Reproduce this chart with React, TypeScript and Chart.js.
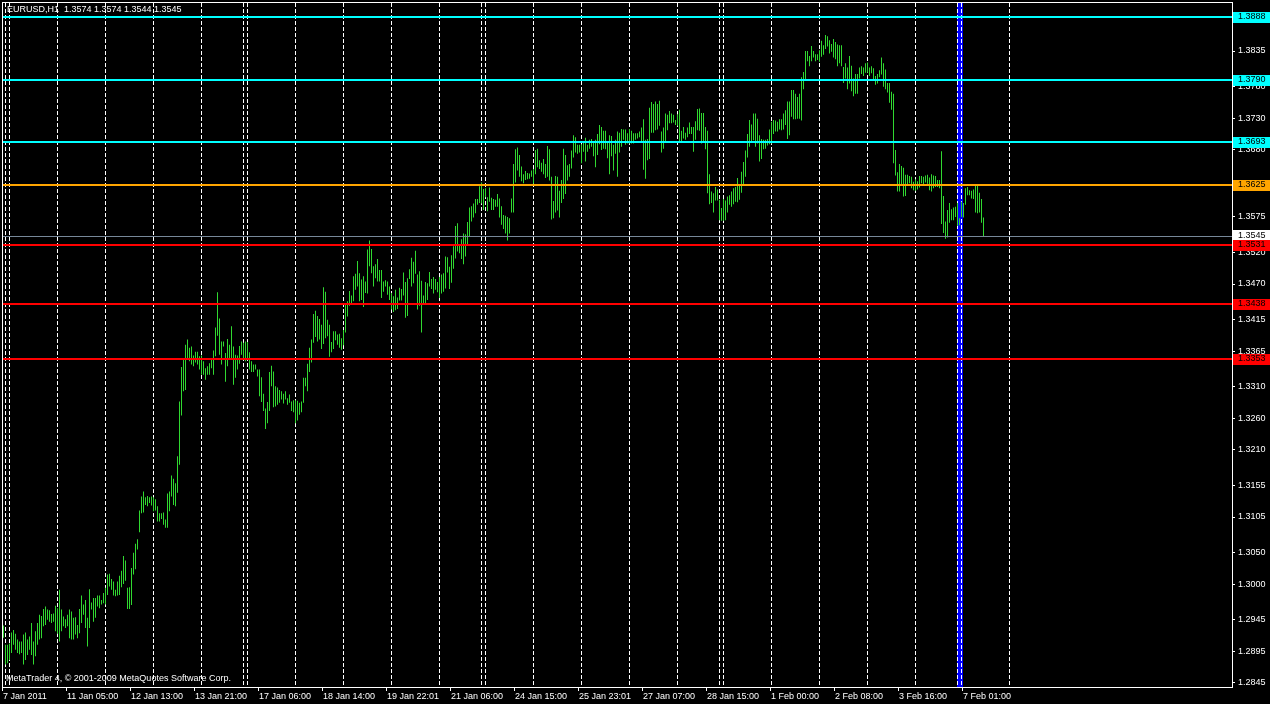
import { useEffect, useRef } from "react";
import { Chart, registerables } from "chart.js";

Chart.register(...registerables);

const chartTitle = "EURUSD,H1  1.3574 1.3574 1.3544 1.3545";
const copyrightText = "MetaTrader 4, \u00A9 2001-2009 MetaQuotes Software Corp.";

const highs = [
  1.2935,1.2905,1.2905,1.2907,1.2924,1.2928,1.2922,1.2913,1.2910,1.2910,
  1.2921,1.2924,1.2913,1.2918,1.2939,1.2910,1.2926,1.2939,1.2952,1.2950,
  1.2961,1.2965,1.2960,1.2959,1.2953,1.2954,1.2966,1.2962,1.2991,1.2960,
  1.2949,1.2945,1.2952,1.2960,1.2957,1.2947,1.2948,1.2936,1.2961,1.2982,
  1.2968,1.2975,1.2947,1.2992,1.2971,1.2978,1.2978,1.2982,1.2982,1.2975,
  1.2986,1.2994,1.3015,1.3016,1.3008,1.3004,1.2991,1.3004,1.3013,1.3021,
  1.3044,1.3037,1.2994,1.2995,1.3025,1.3049,1.3063,1.3070,1.3115,1.3137,
  1.3145,1.3136,1.3138,1.3136,1.3137,1.3136,1.3133,1.3122,1.3111,1.3111,
  1.3112,1.3101,1.3142,1.3145,1.3170,1.3165,1.3158,1.3200,1.3286,1.3340,
  1.3354,1.3375,1.3383,1.3370,1.3372,1.3358,1.3364,1.3364,1.3357,1.3358,
  1.3349,1.3338,1.3341,1.3346,1.3352,1.3366,1.3402,1.3457,1.3416,1.3380,
  1.3380,1.3362,1.3384,1.3375,1.3404,1.3372,1.3359,1.3358,1.3373,1.3380,
  1.3378,1.3380,1.3379,1.3363,1.3349,1.3344,1.3344,1.3336,1.3336,1.3324,
  1.3298,1.3275,1.3285,1.3332,1.3342,1.3333,1.3310,1.3308,1.3304,1.3302,
  1.3298,1.3302,1.3291,1.3297,1.3286,1.3288,1.3288,1.3287,1.3284,1.3286,
  1.3323,1.3323,1.3345,1.3370,1.3383,1.3423,1.3428,1.3420,1.3415,1.3406,
  1.3465,1.3458,1.3414,1.3406,1.3379,1.3396,1.3396,1.3391,1.3392,1.3385,
  1.3398,1.3438,1.3443,1.3459,1.3452,1.3482,1.3486,1.3506,1.3487,1.3477,
  1.3482,1.3474,1.3524,1.3538,1.3525,1.3498,1.3501,1.3509,1.3492,1.3492,
  1.3474,1.3476,1.3474,1.3466,1.3456,1.3451,1.3461,1.3449,1.3464,1.3462,
  1.3488,1.3473,1.3479,1.3493,1.3511,1.3505,1.3522,1.3485,1.3490,1.3475,
  1.3452,1.3473,1.3471,1.3489,1.3478,1.3481,1.3478,1.3473,1.3481,1.3485,
  1.3487,1.3513,1.3512,1.3497,1.3515,1.3529,1.3561,1.3565,1.3530,1.3540,
  1.3549,1.3548,1.3567,1.3590,1.3592,1.3596,1.3603,1.3603,1.3623,1.3629,
  1.3619,1.3620,1.3606,1.3621,1.3605,1.3603,1.3602,1.3611,1.3604,1.3592,
  1.3578,1.3577,1.3575,1.3573,1.3604,1.3658,1.3681,1.3684,1.3672,1.3654,
  1.3642,1.3647,1.3644,1.3643,1.3648,1.3650,1.3680,1.3682,1.3664,1.3660,
  1.3666,1.3658,1.3686,1.3681,1.3638,1.3600,1.3639,1.3638,1.3616,1.3633,
  1.3682,1.3672,1.3656,1.3658,1.3679,1.3703,1.3700,1.3688,1.3688,1.3689,
  1.3693,1.3699,1.3688,1.3696,1.3697,1.3693,1.3696,1.3705,1.3719,1.3716,
  1.3710,1.3710,1.3694,1.3703,1.3702,1.3688,1.3696,1.3709,1.3707,1.3713,
  1.3712,1.3712,1.3706,1.3713,1.3710,1.3706,1.3706,1.3706,1.3709,1.3715,
  1.3728,1.3696,1.3697,1.3746,1.3755,1.3752,1.3756,1.3752,1.3757,1.3709,
  1.3715,1.3737,1.3735,1.3741,1.3737,1.3735,1.3727,1.3736,1.3743,1.3710,
  1.3716,1.3707,1.3715,1.3723,1.3716,1.3716,1.3725,1.3744,1.3745,1.3738,
  1.3738,1.3716,1.3710,1.3642,1.3615,1.3612,1.3622,1.3618,1.3602,1.3589,
  1.3603,1.3601,1.3607,1.3609,1.3615,1.3620,1.3622,1.3636,1.3625,1.3646,
  1.3661,1.3679,1.3705,1.3727,1.3720,1.3737,1.3737,1.3729,1.3703,1.3697,
  1.3696,1.3696,1.3697,1.3712,1.3724,1.3727,1.3726,1.3724,1.3728,1.3728,
  1.3737,1.3742,1.3756,1.3756,1.3774,1.3774,1.3768,1.3763,1.3768,1.3794,
  1.3802,1.3835,1.3835,1.3827,1.3843,1.3835,1.3830,1.3830,1.3836,1.3851,
  1.3844,1.3860,1.3858,1.3852,1.3846,1.3854,1.3849,1.3845,1.3844,1.3844,
  1.3810,1.3816,1.3809,1.3827,1.3812,1.3792,1.3799,1.3799,1.3809,1.3811,
  1.3809,1.3816,1.3817,1.3809,1.3811,1.3808,1.3796,1.3799,1.3805,1.3825,
  1.3816,1.3806,1.3785,1.3785,1.3771,1.3768,1.3680,1.3645,1.3658,1.3655,
  1.3652,1.3641,1.3641,1.3639,1.3638,1.3630,1.3634,1.3631,1.3639,1.3639,
  1.3638,1.3640,1.3641,1.3637,1.3642,1.3640,1.3639,1.3633,1.3633,1.3678,
  1.3608,1.3568,1.3586,1.3597,1.3587,1.3590,1.3591,1.3597,1.3573,1.3599,
  1.3597,1.3620,1.3622,1.3617,1.3616,1.3618,1.3625,1.3624,1.3613,1.3603,
  1.3574,
];

const lows = [
  1.2916,1.2874,1.2876,1.2881,1.2892,1.2905,1.2897,1.2892,1.2890,1.2892,
  1.2874,1.2881,1.2889,1.2897,1.2889,1.2874,1.2887,1.2905,1.2913,1.2915,
  1.2934,1.2936,1.2944,1.2941,1.2939,1.2941,1.2926,1.2922,1.2910,1.2926,
  1.2934,1.2931,1.2934,1.2915,1.2913,1.2913,1.2921,1.2915,1.2923,1.2939,
  1.2952,1.2931,1.2902,1.2931,1.2960,1.2941,1.2947,1.2965,1.2962,1.2968,
  1.2970,1.2968,1.2983,1.2996,1.2991,1.2982,1.2981,1.2982,1.2983,1.2995,
  1.3000,1.3005,1.2961,1.2961,1.2967,1.3015,1.3023,1.3054,1.3081,1.3111,
  1.3112,1.3124,1.3122,1.3127,1.3123,1.3114,1.3115,1.3098,1.3098,1.3102,
  1.3093,1.3088,1.3088,1.3114,1.3137,1.3124,1.3122,1.3143,1.3187,1.3264,
  1.3302,1.3304,1.3354,1.3349,1.3344,1.3341,1.3347,1.3344,1.3336,1.3328,
  1.3328,1.3320,1.3328,1.3328,1.3338,1.3328,1.3357,1.3389,1.3359,1.3344,
  1.3372,1.3317,1.3341,1.3354,1.3352,1.3312,1.3323,1.3336,1.3345,1.3359,
  1.3354,1.3349,1.3354,1.3336,1.3332,1.3332,1.3336,1.3325,1.3294,1.3285,
  1.3271,1.3243,1.3252,1.3271,1.3310,1.3277,1.3278,1.3281,1.3284,1.3289,
  1.3283,1.3289,1.3281,1.3284,1.3271,1.3269,1.3252,1.3256,1.3265,1.3269,
  1.3284,1.3310,1.3302,1.3332,1.3347,1.3378,1.3387,1.3380,1.3383,1.3368,
  1.3376,1.3385,1.3388,1.3356,1.3363,1.3368,1.3382,1.3375,1.3370,1.3367,
  1.3374,1.3394,1.3419,1.3436,1.3440,1.3443,1.3461,1.3466,1.3443,1.3445,
  1.3434,1.3456,1.3455,1.3498,1.3487,1.3466,1.3479,1.3474,1.3474,1.3448,
  1.3458,1.3466,1.3453,1.3445,1.3430,1.3426,1.3429,1.3431,1.3444,1.3444,
  1.3452,1.3417,1.3420,1.3478,1.3466,1.3471,1.3486,1.3430,1.3436,1.3394,
  1.3440,1.3440,1.3445,1.3466,1.3462,1.3455,1.3461,1.3457,1.3448,1.3455,
  1.3458,1.3463,1.3488,1.3462,1.3472,1.3494,1.3510,1.3521,1.3518,1.3509,
  1.3501,1.3513,1.3531,1.3544,1.3568,1.3574,1.3581,1.3594,1.3597,1.3596,
  1.3586,1.3606,1.3584,1.3599,1.3586,1.3586,1.3591,1.3591,1.3574,1.3563,
  1.3556,1.3549,1.3538,1.3549,1.3582,1.3582,1.3629,1.3648,1.3638,1.3631,
  1.3628,1.3633,1.3634,1.3635,1.3638,1.3627,1.3642,1.3653,1.3650,1.3646,
  1.3642,1.3636,1.3638,1.3632,1.3571,1.3573,1.3582,1.3585,1.3574,1.3597,
  1.3603,1.3611,1.3632,1.3638,1.3651,1.3668,1.3676,1.3674,1.3676,1.3659,
  1.3677,1.3662,1.3677,1.3682,1.3685,1.3670,1.3653,1.3672,1.3689,1.3680,
  1.3682,1.3681,1.3667,1.3642,1.3670,1.3648,1.3674,1.3638,1.3676,1.3685,
  1.3696,1.3688,1.3690,1.3690,1.3690,1.3690,1.3696,1.3698,1.3700,1.3693,
  1.3649,1.3635,1.3664,1.3666,1.3707,1.3707,1.3711,1.3712,1.3718,1.3676,
  1.3682,1.3693,1.3711,1.3722,1.3722,1.3723,1.3719,1.3718,1.3693,1.3691,
  1.3698,1.3696,1.3700,1.3705,1.3705,1.3677,1.3696,1.3711,1.3710,1.3690,
  1.3693,1.3681,1.3612,1.3595,1.3597,1.3582,1.3601,1.3601,1.3570,1.3569,
  1.3569,1.3570,1.3582,1.3594,1.3591,1.3595,1.3599,1.3598,1.3602,1.3613,
  1.3625,1.3638,1.3668,1.3685,1.3692,1.3695,1.3685,1.3690,1.3662,1.3666,
  1.3681,1.3682,1.3687,1.3689,1.3690,1.3705,1.3709,1.3709,1.3712,1.3711,
  1.3712,1.3719,1.3697,1.3703,1.3732,1.3728,1.3728,1.3729,1.3729,1.3726,
  1.3775,1.3791,1.3819,1.3811,1.3819,1.3825,1.3819,1.3821,1.3818,1.3826,
  1.3829,1.3838,1.3842,1.3831,1.3834,1.3825,1.3822,1.3811,1.3816,1.3811,
  1.3785,1.3792,1.3775,1.3784,1.3772,1.3764,1.3768,1.3768,1.3792,1.3799,
  1.3796,1.3801,1.3801,1.3796,1.3800,1.3791,1.3782,1.3784,1.3794,1.3798,
  1.3779,1.3775,1.3770,1.3754,1.3743,1.3659,1.3640,1.3615,1.3615,1.3624,
  1.3607,1.3608,1.3624,1.3628,1.3620,1.3617,1.3616,1.3618,1.3621,1.3628,
  1.3625,1.3629,1.3627,1.3617,1.3615,1.3620,1.3622,1.3622,1.3620,1.3564,
  1.3550,1.3541,1.3543,1.3566,1.3570,1.3570,1.3575,1.3561,1.3562,1.3575,
  1.3574,1.3594,1.3609,1.3609,1.3604,1.3603,1.3582,1.3581,1.3582,1.3566,
  1.3544,
];

const xTickBars = [0, 32, 64, 96, 128, 160, 192, 224, 256, 288, 320, 352, 384, 416, 448, 480];
const xTickLabels = [
  "7 Jan 2011", "11 Jan 05:00", "12 Jan 13:00", "13 Jan 21:00", "17 Jan 06:00",
  "18 Jan 14:00", "19 Jan 22:01", "21 Jan 06:00", "24 Jan 15:00", "25 Jan 23:01",
  "27 Jan 07:00", "28 Jan 15:00", "1 Feb 00:00", "2 Feb 08:00", "3 Feb 16:00", "7 Feb 01:00",
];
const yTickValues = [
  1.3835, 1.3780, 1.3730, 1.3680, 1.3625, 1.3575, 1.3520, 1.3470, 1.3415, 1.3365,
  1.3310, 1.3260, 1.3210, 1.3155, 1.3105, 1.3050, 1.3000, 1.2945, 1.2895, 1.2845,
];
const separatorBars = [
  1, 3, 27, 51, 75, 99, 120, 122, 146, 170, 194, 218, 239, 241, 265, 289, 313, 337,
  358, 360, 384, 408, 432, 456, 477, 479, 503,
];
const levelValues = [1.3888, 1.3790, 1.3693, 1.3625, 1.3531, 1.3438, 1.3353];
const levelColors = ["#00FFFF", "#00FFFF", "#00FFFF", "#FFA500", "#FF0000", "#FF0000", "#FF0000"];
const bidPrice = 1.3545;
const markerBar = 478;

const Y_MIN = 1.28387;
const Y_MAX = 1.39102;
const X_MIN = -0.25;
const X_MAX = 614.25;
const FONT = '"Liberation Sans", Arial, sans-serif';
const FONT_SIZE = 9;
const BAR_COLOR = "#30D830";

const mtPlugin = {
  id: "mtDecor",
  beforeDraw(chart: any) {
    const ctx = chart.ctx;
    ctx.save();
    ctx.fillStyle = "#000000";
    ctx.fillRect(0, 0, chart.width, chart.height);
    ctx.restore();
  },
  beforeDatasetsDraw(chart: any) {
    const ctx = chart.ctx;
    const { top, bottom } = chart.chartArea;
    const xs = chart.scales.x;
    ctx.save();
    const bx = Math.round(xs.getPixelForValue(markerBar));
    ctx.fillStyle = "#0000FF";
    ctx.fillRect(bx - 3, top, 6, bottom - top);
    ctx.strokeStyle = "#FFFFFF";
    ctx.lineWidth = 1;
    ctx.setLineDash([4, 2]);
    separatorBars.forEach((b) => {
      const px = Math.floor(xs.getPixelForValue(b)) + 0.5;
      ctx.beginPath();
      ctx.moveTo(px, top);
      ctx.lineTo(px, bottom);
      ctx.stroke();
    });
    ctx.restore();
  },
  afterDatasetsDraw(chart: any) {
    const ctx = chart.ctx;
    const { left, right } = chart.chartArea;
    const ys = chart.scales.y;
    ctx.save();
    levelValues.forEach((v, i) => {
      const py = Math.round(ys.getPixelForValue(v));
      ctx.fillStyle = levelColors[i];
      ctx.fillRect(left, py - 1, right - left, 2);
    });
    const by = Math.floor(ys.getPixelForValue(bidPrice));
    ctx.fillStyle = "#778899";
    ctx.fillRect(left, by, right - left, 1);
    ctx.restore();
  },
  afterDraw(chart: any) {
    const ctx = chart.ctx;
    const { left, right, top, bottom } = chart.chartArea;
    const ys = chart.scales.y;
    ctx.save();
    ctx.strokeStyle = "#FFFFFF";
    ctx.lineWidth = 1;
    ctx.strokeRect(left - 0.5, top - 0.5, right - left + 1, bottom - top + 1);
    ctx.font = `${FONT_SIZE}px ${FONT}`;
    ctx.textBaseline = "middle";
    ctx.textAlign = "left";
    const by = Math.round(ys.getPixelForValue(bidPrice));
    ctx.fillStyle = "#FFFFFF";
    ctx.fillRect(right + 1, by - 6, chart.width - right - 1, 11);
    ctx.fillStyle = "#000000";
    ctx.fillText(bidPrice.toFixed(4), right + 6, by);
    levelValues.forEach((v, i) => {
      const py = Math.round(ys.getPixelForValue(v));
      ctx.fillStyle = levelColors[i];
      ctx.fillRect(right + 1, py - 5, chart.width - right - 1, 11);
      ctx.fillStyle = "#000000";
      ctx.fillText(v.toFixed(4), right + 6, py);
    });
    ctx.fillStyle = "#FFFFFF";
    ctx.fillText(chartTitle, 7, 10);
    ctx.fillText(copyrightText, 6, 679);
    ctx.restore();
  },
};

export default function App() {
  const canvasRef = useRef<HTMLCanvasElement | null>(null);

  useEffect(() => {
    document.body.style.margin = "0";
    document.body.style.background = "#000000";
    const canvas = canvasRef.current;
    if (!canvas) return;
    const data = highs.map((h, i) => ({ x: i, y: [lows[i], h] }));
    const chart = new Chart(canvas, {
      type: "bar",
      data: {
        datasets: [
          {
            label: "EURUSD,H1",
            data: data as any,
            backgroundColor: BAR_COLOR,
            borderWidth: 0,
            barThickness: 1,
            inflateAmount: 0,
          } as any,
        ],
      },
      options: {
        animation: false,
        responsive: false,
        devicePixelRatio: 1,
        events: [],
        layout: { padding: { top: 3, left: 3, right: 0, bottom: 0 } },
        plugins: {
          legend: { display: false },
          tooltip: { enabled: false },
          title: { display: false },
        },
        scales: {
          x: {
            type: "linear",
            min: X_MIN,
            max: X_MAX,
            offset: false,
            border: { display: false },
            grid: {
              offset: false,
              drawOnChartArea: false,
              drawTicks: true,
              tickLength: 4,
              color: "#FFFFFF",
              lineWidth: 1,
            },
            ticks: {
              autoSkip: false,
              maxRotation: 0,
              minRotation: 0,
              align: "start",
              padding: 0,
              labelOffset: 1,
              color: "#FFFFFF",
              font: { family: FONT, size: FONT_SIZE },
              callback: (_v: any, idx: number) => xTickLabels[idx] ?? "",
            },
            afterBuildTicks: (scale: any) => {
              scale.ticks = xTickBars.map((b) => ({ value: b - 0.75 }));
            },
            afterFit: (scale: any) => {
              scale.height = 17;
              scale.paddingLeft = 0;
              scale.paddingRight = 0;
              scale.paddingTop = 0;
              scale.paddingBottom = 0;
            },
          } as any,
          y: {
            type: "linear",
            position: "right",
            min: Y_MIN,
            max: Y_MAX,
            beginAtZero: false,
            border: { display: false },
            grid: {
              drawOnChartArea: false,
              drawTicks: true,
              tickLength: 3,
              color: "#FFFFFF",
              lineWidth: 1,
            },
            ticks: {
              autoSkip: false,
              padding: 3,
              color: "#FFFFFF",
              font: { family: FONT, size: FONT_SIZE },
              callback: (v: any) => Number(v).toFixed(4),
            },
            afterBuildTicks: (scale: any) => {
              scale.ticks = yTickValues.map((v) => ({ value: v }));
            },
            afterFit: (scale: any) => {
              scale.width = 38;
              scale.paddingTop = 0;
              scale.paddingBottom = 0;
              scale.paddingLeft = 0;
              scale.paddingRight = 0;
            },
          } as any,
        },
      },
      plugins: [mtPlugin],
    });
    return () => chart.destroy();
  }, []);

  return (
    <div style={{ width: 1270, height: 704, background: "#000000" }}>
      <canvas ref={canvasRef} width={1270} height={704} style={{ display: "block", width: 1270, height: 704 }} />
    </div>
  );
}
